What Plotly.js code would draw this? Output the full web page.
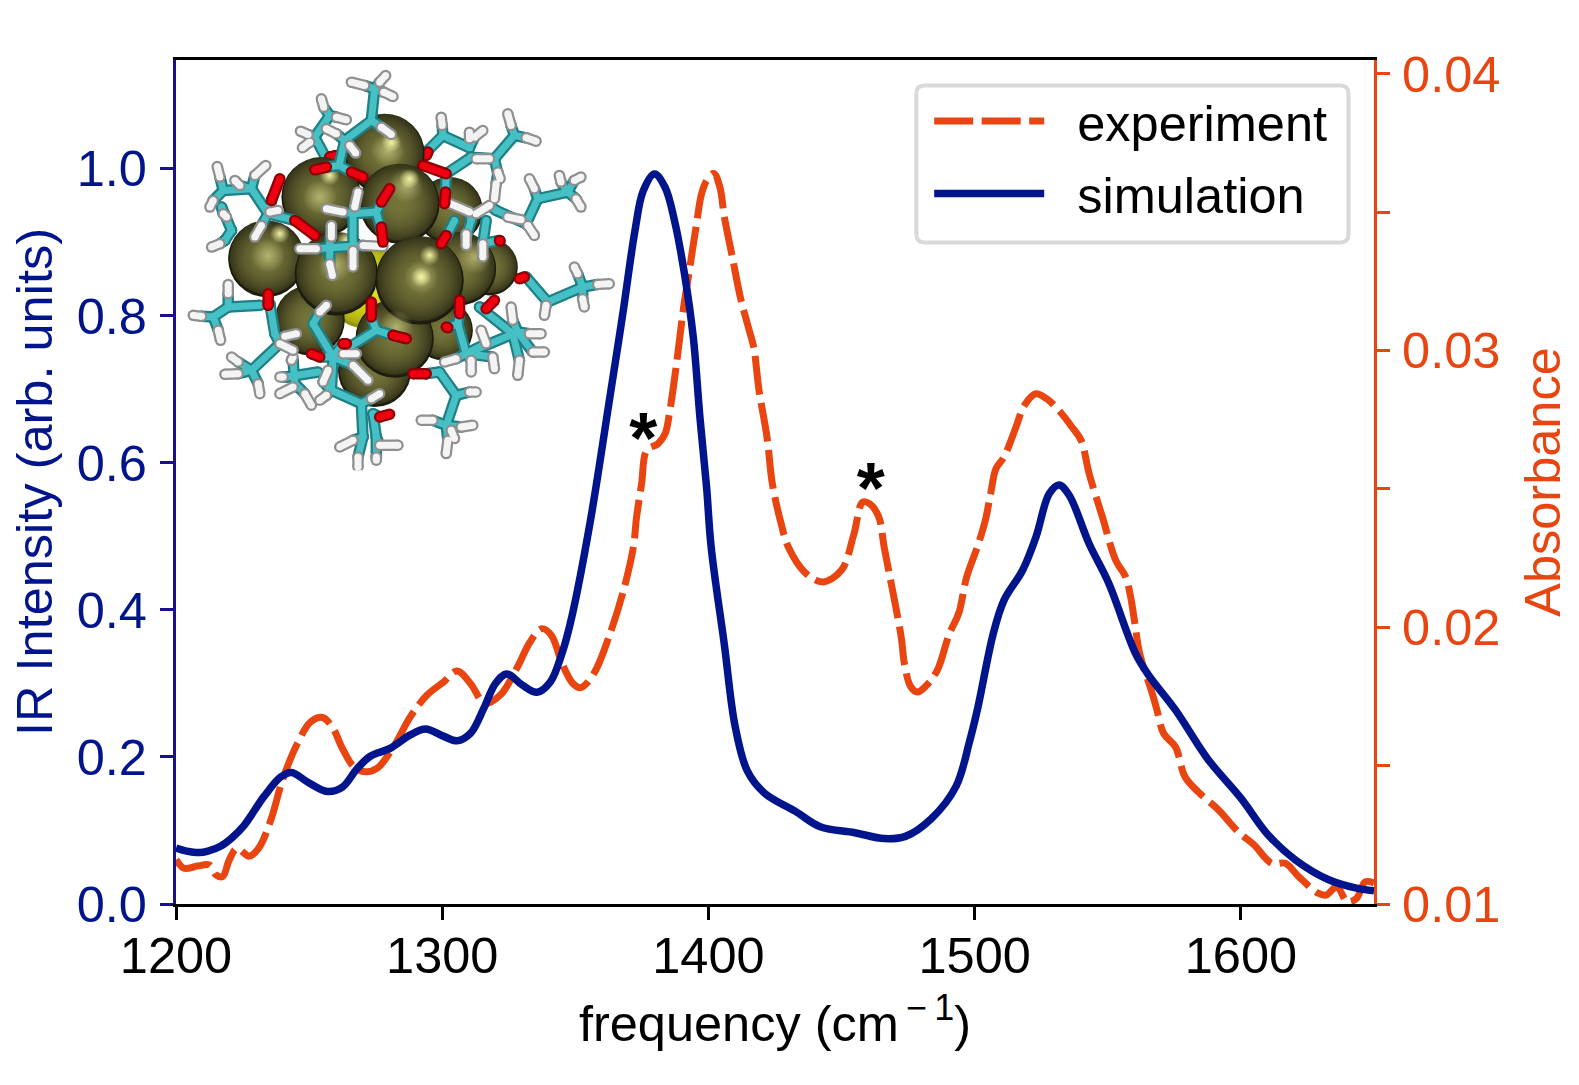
<!DOCTYPE html>
<html>
<head>
<meta charset="utf-8">
<script src="https://cdn.plot.ly/plotly-3.0.1.min.js"></script>
<style>html,body{margin:0;padding:0;background:#fff}</style>
</head>
<body>
<div id="chart" style="width:1579px;height:1085px"></div>
<script>
/* values */
var simFreq = [1200,1204,1208.7,1212,1216.9,1221,1225.6,1233,1239.4,1243.4,1249.4,1256.9,1262.5,1268,1273,1280.6,1288,1293.7,1300.6,1305.6,1310.6,1315.6,1320,1324.3,1330,1335.6,1340.6,1345,1348.7,1355.5,1363,1368,1372.4,1375.5,1379.7,1383.7,1387.4,1391,1394.3,1396.8,1399.3,1401,1406,1410,1414.6,1421,1432.7,1442,1455,1466,1474,1483.7,1493,1498,1501,1507,1511,1518,1523,1528,1531.7,1535.5,1543,1550.4,1560.4,1565.4,1575.4,1587.6,1600,1610,1620.5,1633,1643,1650];
var simIntensity = [0.076,0.072,0.07,0.072,0.079,0.09,0.107,0.146,0.173,0.179,0.166,0.153,0.159,0.184,0.201,0.212,0.23,0.238,0.228,0.222,0.232,0.266,0.3,0.313,0.298,0.288,0.302,0.341,0.391,0.518,0.69,0.807,0.916,0.97,0.993,0.975,0.927,0.857,0.771,0.662,0.567,0.486,0.352,0.242,0.181,0.151,0.126,0.105,0.097,0.089,0.092,0.116,0.16,0.22,0.264,0.368,0.413,0.454,0.499,0.558,0.57,0.556,0.49,0.436,0.341,0.311,0.264,0.197,0.144,0.095,0.06,0.033,0.022,0.018];
var expFreq = [1200,1203,1208,1212.5,1215,1217.5,1220,1222.9,1227.5,1231,1235.6,1240,1245.6,1250.6,1255,1258.7,1262.5,1266.8,1271,1275.6,1281.7,1288,1294.3,1300.5,1305.6,1310.6,1316,1321.8,1328,1333,1337.4,1341,1345,1349,1352,1357,1362.6,1368,1371.8,1373,1374.9,1376.8,1381,1383.7,1385.5,1388,1390.5,1393,1395.5,1397.4,1399.3,1402,1404.3,1406,1409,1412,1415,1417,1419,1422,1424,1427,1430,1436.5,1443,1450,1454.6,1457.9,1460.5,1464,1466,1472.4,1473.6,1476,1478.5,1482,1486,1490.5,1494,1497,1501,1504,1506,1508,1511,1515.5,1518.6,1523,1527,1531.7,1536.6,1540,1543,1548,1553,1556.7,1558.6,1560,1562,1566.7,1568.5,1571,1575.4,1579,1584,1591.7,1599,1605,1611.6,1616.7,1621.7,1629,1632,1636,1640,1643.4,1646.7,1650];
var expAbsorbance = [0.0116,0.01129,0.01137,0.01141,0.01105,0.01099,0.01159,0.01201,0.01173,0.01201,0.01303,0.01448,0.0158,0.01658,0.01674,0.0164,0.01562,0.01496,0.01478,0.01491,0.01568,0.01676,0.01755,0.01802,0.01842,0.01797,0.01725,0.01755,0.01852,0.01947,0.01995,0.01971,0.0187,0.01798,0.01782,0.01834,0.01965,0.0213,0.0229,0.02398,0.02519,0.02639,0.02663,0.02699,0.02783,0.02952,0.03144,0.033,0.03457,0.03566,0.03614,0.0364,0.0359,0.03481,0.03337,0.03192,0.03084,0.03012,0.02856,0.02687,0.02519,0.02386,0.0229,0.02196,0.02164,0.02207,0.02335,0.02452,0.02447,0.02398,0.0229,0.01965,0.01869,0.01785,0.01766,0.01791,0.01845,0.01977,0.0205,0.02182,0.0229,0.02386,0.02483,0.02573,0.02615,0.02723,0.02801,0.02844,0.02826,0.02783,0.02723,0.02675,0.02555,0.02398,0.02242,0.02182,0.02109,0.02025,0.01905,0.01761,0.017,0.01616,0.01568,0.0146,0.01405,0.01339,0.01261,0.01213,0.01147,0.01147,0.01099,0.01039,0.01032,0.01062,0.01008,0.0102,0.0108,0.01076];

var freqTicks = [1200,1300,1400,1500,1600];
var intensityTicks = [0,0.2,0.4,0.6,0.8,1.0];
var intensityLabels = ['0.0','0.2','0.4','0.6','0.8','1.0'];
var absorbanceTicks = [0.01,0.02,0.03,0.04];
var absorbanceLabels = ['0.01','0.02','0.03','0.04'];
var absorbanceMinor = [0.015,0.025,0.035];
var starFreq = [1375.5,1461];
var starIntensity = [0.625,0.557];

/* inset molecule, coordinates in its own 1320x1230 box */
var sphereX = [560,615,810,930,840,425,660,390,260,470,585,790,645,720];
var sphereY = [680,280,450,620,625,410,430,780,595,640,930,810,835,660];
var sphereD = [250,240,200,170,220,240,240,210,230,250,220,180,235,265];
var glowX = [625,420,680,265,465,725,650,885];
var glowY = [270,410,375,585,615,650,800,590];
var shineX = [635,450,690,300,500,750,725];
var shineY = [245,345,355,520,540,585,650];
var backTeal = [[450,165,405,230],[405,230,440,295],[125,440,155,510],[155,510,135,540],[745,270,790,225],[790,225,870,262],[320,950,415,935],[340,900,345,970]];
var backWhite = [[432,140,425,115],[470,170,500,178],[385,222,362,212],[390,245,368,262],[140,470,130,460],[120,550,95,560],[788,195,785,170],[870,235,870,215],[885,230,910,210],[340,890,335,900],[310,950,300,950],[300,1000,340,980],[375,1000,395,1035]];
var backRed = [[450,290,470,285],[740,285,745,275]];
var frontTeal = [[585,85,575,180],[575,180,495,240],[495,240,478,315],[875,290,800,340],[800,340,798,395],[945,295,1005,225],[945,295,955,340],[875,290,945,295],[1040,490,1075,415],[1075,415,1165,395],[950,450,1040,490],[920,480,910,550],[875,480,860,530],[825,480,800,530],[520,460,520,560],[520,460,590,455],[590,455,605,510],[410,565,550,555],[450,555,450,610],[450,555,455,500],[130,390,215,385],[215,385,265,460],[265,460,345,480],[1040,650,1105,725],[1105,725,1210,680],[100,770,145,740],[145,740,240,735],[270,730,285,820],[285,820,300,850],[300,850,215,930],[400,790,460,890],[460,890,590,810],[460,890,455,990],[455,990,545,1030],[545,1030,550,1130],[580,1060,590,1130],[835,790,860,880],[860,880,1015,815],[900,740,1000,820],[740,940,780,935],[780,935,830,1005],[830,1005,800,1095]];
var frontWhite = [[600,65,618,45],[555,75,515,65],[612,95,640,108],[605,200,635,222],[470,220,440,205],[510,255,528,278],[890,295,930,295],[955,335,962,355],[995,195,985,160],[1040,232,1070,242],[1065,385,1050,355],[1145,365,1140,345],[1185,360,1205,350],[1190,415,1205,440],[1045,495,1065,525],[985,470,1025,478],[945,415,950,370],[910,550,910,590],[860,520,860,555],[800,425,870,455],[890,460,930,435],[535,395,525,440],[440,445,490,455],[360,565,410,565],[550,555,610,558],[450,610,458,645],[455,530,455,495],[520,570,520,620],[120,350,112,318],[100,420,90,440],[165,360,180,375],[225,345,258,315],[245,495,225,530],[270,455,295,450],[1100,735,1095,765],[1255,672,1290,670],[1195,640,1185,620],[1210,715,1215,740],[175,905,155,890],[175,940,135,942],[235,970,240,1000],[145,700,145,672],[65,768,40,765],[115,810,122,840],[300,850,340,870],[350,820,315,828],[420,755,440,735],[490,880,530,880],[445,930,430,965],[520,915,565,960],[575,1015,600,1000],[420,1020,440,1005],[480,1160,520,1140],[535,1190,535,1220],[600,1155,655,1155],[590,1190,590,1200],[1050,820,1085,820],[1000,780,995,740],[1020,900,1015,945],[1060,875,1095,875],[940,890,945,925],[875,900,875,935],[905,810,920,850],[830,895,795,905],[870,995,890,995],[760,1080,725,1080],[845,1100,880,1095],[805,1140,800,1180],[815,1110,825,1135]];
var frontRed = [[440,320,405,328],[515,335,550,350],[800,340,730,315],[798,395,795,430],[800,525,785,550],[960,540,962,542],[605,500,610,545],[605,425,630,385],[345,480,405,525],[275,420,300,355],[1035,650,1020,655],[265,700,265,735],[575,770,575,725],[640,825,680,835],[395,880,420,890],[490,850,500,850],[600,1070,630,1062],[840,720,840,760],[800,800,805,802],[945,720,920,745],[700,940,740,940]];

function segX(list) {
  var out = [];
  list.forEach(function (s) { out.push(s[0], s[2], null); });
  return out;
}
function segY(list) {
  var out = [];
  list.forEach(function (s) { out.push(s[1], s[3], null); });
  return out;
}
function sticks(list, edge, core) {
  return [
    {x: segX(list), y: segY(list), xaxis: 'x3', yaxis: 'y3', mode: 'lines+markers', showlegend: false, hoverinfo: 'skip',
     line: {color: edge, width: 11.5}, marker: {color: edge, size: 11.5}},
    {x: segX(list), y: segY(list), xaxis: 'x3', yaxis: 'y3', mode: 'lines+markers', showlegend: false, hoverinfo: 'skip',
     line: {color: core, width: 7}, marker: {color: core, size: 7}}
  ];
}
// tie each hydrogen or oxygen tip to the closest carbon so the half bonds join up
function bondsTo(tips, carbons) {
  var out = [];
  tips.forEach(function (t) {
    var best = null, bestD = 90;
    carbons.forEach(function (c) {
      [[c[0], c[1]], [c[2], c[3]]].forEach(function (p) {
        [[t[0], t[1]], [t[2], t[3]]].forEach(function (q) {
          var d = Math.hypot(p[0] - q[0], p[1] - q[1]);
          if (d < bestD) { bestD = d; best = [p[0], p[1], q[0], q[1]]; }
        });
      });
    });
    if (best) out.push(best);
  });
  return out;
}

var blue = '#00148c';
var red = '#e84510';
var font = 'Liberation Sans, Arial, sans-serif';
var fs = 50.5;

var experiment = {
  x: expFreq, y: expAbsorbance, xaxis: 'x', yaxis: 'y', mode: 'lines', name: '\u00a0\u00a0experiment', legendgroup: 'a',
  line: {color: red, width: 7, dash: '39px,8.5px', shape: 'spline', smoothing: 1}
};
var simulation = {
  x: simFreq, y: simIntensity, xaxis: 'x', yaxis: 'y2', mode: 'lines', name: '\u00a0\u00a0simulation', legendgroup: 'b',
  line: {color: blue, width: 7.5, shape: 'spline', smoothing: 1}
};
var stars = {
  x: starFreq, y: starIntensity, xaxis: 'x', yaxis: 'y2', mode: 'text', text: ['*', '*'], showlegend: false, hoverinfo: 'skip',
  textposition: 'middle center', textfont: {family: font, size: 72, color: '#000', weight: 700}
};

// every sphere is a dark rim with a flat olive disc on top, slightly lifted
var ballX = [], ballY = [], ballSize = [], ballEdge = [], ballCentre = [];
sphereX.forEach(function (x, i) {
  var d = sphereD[i], rim = i === 0 ? '#8f8f10' : '#1a1a0c', body = i === 0 ? '#e4e41c' : '#74743a';
  ballX.push(x, x);
  ballY.push(sphereY[i], sphereY[i] - d * 0.02);
  ballSize.push(d / 3, d / 3 * 0.96);
  ballEdge.push(rim, i === 0 ? 'rgba(228,228,28,0.2)' : 'rgba(116,116,58,0.25)');
  ballCentre.push(body, body);
});
var spheres = {
  x: ballX, y: ballY, xaxis: 'x3', yaxis: 'y3', mode: 'markers', showlegend: false, hoverinfo: 'skip',
  marker: {size: ballSize, color: ballEdge, opacity: 1, line: {width: 0}, gradient: {type: 'radial', color: ballCentre}}
};
var glow = {
  x: glowX, y: glowY, xaxis: 'x3', yaxis: 'y3', mode: 'markers', showlegend: false, hoverinfo: 'skip',
  marker: {size: 34, color: 'rgba(205,205,135,0)', opacity: 1, line: {width: 0},
    gradient: {type: 'radial', color: 'rgba(205,205,135,0.7)'}}
};
var shine = {
  x: shineX, y: shineY, xaxis: 'x3', yaxis: 'y3', mode: 'markers', showlegend: false, hoverinfo: 'skip',
  marker: {size: 20, color: 'rgba(250,250,170,0)', opacity: 1, line: {width: 0},
    gradient: {type: 'radial', color: 'rgba(250,250,170,0.95)'}}
};

var backBonds = backTeal.concat(bondsTo(backWhite.concat(backRed), backTeal));
var frontBonds = frontTeal.concat(bondsTo(frontWhite.concat(frontRed), frontTeal));

var data = [experiment, simulation, stars]
  .concat(sticks(backBonds, '#1f7f85', '#45c0c4'))
  .concat(sticks(backWhite, '#8f8f8f', '#f2f2f2'))
  .concat(sticks(backRed, '#8c0006', '#ee0010'))
  .concat([spheres, glow, shine])
  .concat(sticks(frontBonds, '#1f7f85', '#45c0c4'))
  .concat(sticks(frontWhite, '#8f8f8f', '#f4f4f4'))
  .concat(sticks(frontRed, '#8c0006', '#ee0010'));

var layout = {
  width: 1579,
  height: 1085,
  margin: {l: 176, r: 204.5, t: 59.5, b: 181, pad: 0},
  paper_bgcolor: '#fff',
  plot_bgcolor: 'rgba(0,0,0,0)',
  font: {family: font, size: fs, color: '#000'},
  hovermode: false,
  xaxis: {
    range: [1200, 1650], tickmode: 'array', tickvals: freqTicks, ticks: 'outside', ticklen: 13, tickwidth: 3, tickcolor: '#000',
    showline: true, linecolor: '#000', linewidth: 3, mirror: true, showgrid: false, zeroline: false, ticklabelstandoff: -8,
    title: {text: 'frequency (cm<sup><span style="font-size:36px">\u2009−\u20091</span></sup>)', standoff: 24, font: {size: fs}},
    tickfont: {size: fs}
  },
  yaxis: {
    side: 'right', range: [0.01, 0.0405], tickmode: 'array', tickvals: absorbanceTicks, ticktext: absorbanceLabels,
    ticks: 'outside', ticklen: 13, tickwidth: 3, tickcolor: red, showline: true, linecolor: red, linewidth: 3,
    minor: {tickmode: 'array', tickvals: absorbanceMinor, ticks: 'outside', ticklen: 13, tickwidth: 3, tickcolor: red, showgrid: false},
    showgrid: false, zeroline: false, tickfont: {size: fs, color: red}, ticklabelstandoff: 2,
    title: {text: 'Absorbance', standoff: 26, font: {size: fs, color: red}}
  },
  yaxis2: {
    overlaying: 'y', side: 'left', range: [0, 1.148], tickmode: 'array', tickvals: intensityTicks, ticktext: intensityLabels,
    ticks: 'outside', ticklen: 13, tickwidth: 3, tickcolor: '#1c0f8c', showline: true, linecolor: '#1c0f8c', linewidth: 3,
    showgrid: false, zeroline: false, tickfont: {size: fs, color: blue}, ticklabelstandoff: 3,
    title: {text: 'IR Intensity (arb. units)', standoff: 9, font: {size: fs, color: blue}}
  },
  xaxis3: {domain: [0.0033, 0.37], range: [0, 1320], visible: false, anchor: 'y3', fixedrange: true},
  yaxis3: {domain: [0.5139, 0.9994], range: [1230, 0], visible: false, anchor: 'x3', fixedrange: true},
  legend: {
    x: 0.6287, y: 0.9744, xanchor: 'left', yanchor: 'top', bgcolor: 'rgba(0,0,0,0)', borderwidth: 0,
    itemwidth: 110, tracegroupgap: 4, font: {size: fs, color: '#000'}
  },
  shapes: [{
    type: 'path', xref: 'paper', yref: 'paper', layer: 'below', fillcolor: '#fff',
    line: {color: '#d9d9d9', width: 4},
    path: 'M0.6247,0.9698 L0.972,0.9698 Q0.9787,0.9698 0.9787,0.9603 L0.9787,0.7934 Q0.9787,0.7839 0.972,0.7839 L0.6247,0.7839 Q0.618,0.7839 0.618,0.7934 L0.618,0.9603 Q0.618,0.9698 0.6247,0.9698 Z'
  }]
};

var config = {displayModeBar: false, responsive: false};

Plotly.newPlot('chart', data, layout, config);
</script>
</body>
</html>
